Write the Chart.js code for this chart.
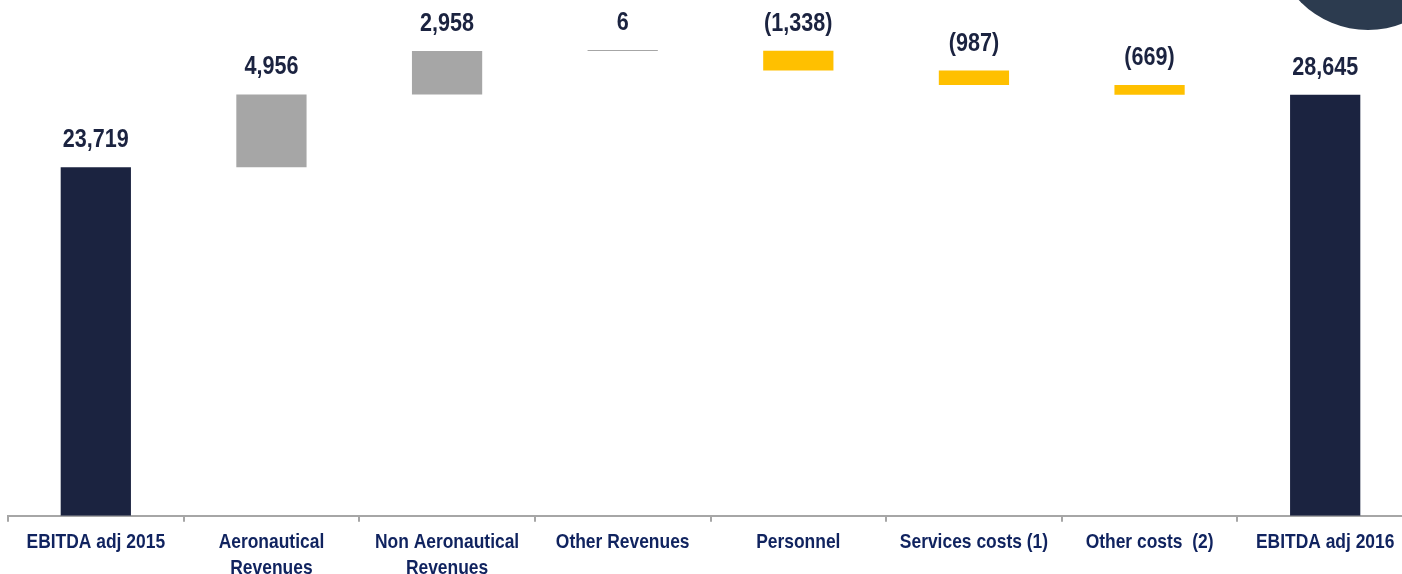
<!DOCTYPE html>
<html>
<head>
<meta charset="utf-8">
<script src="https://cdn.jsdelivr.net/npm/chart.js@4.4.1/dist/chart.umd.min.js"></script>
<style>
    html, body { margin: 0; padding: 0; background: #fff; overflow: hidden; }
    #wrap { position: relative; width: 1402px; height: 574px; overflow: hidden; }
    #chartBox { position: absolute; left: 0; top: 0; width: 1420px; height: 574px; }
    #deco { position: absolute; left: 1273px; top: -160px; width: 190px; height: 190px; border-radius: 50%; background: #2c3b4f; }
</style>
</head>
<body>
<div id="wrap">
    <div id="chartBox"><canvas id="chartWaterfall"></canvas></div>
    <div id="deco"></div>
</div>
<script>
const categories = [
    'EBITDA adj 2015',
    ['Aeronautical', 'Revenues'],
    ['Non Aeronautical', 'Revenues'],
    'Other Revenues',
    'Personnel',
    'Services costs (1)',
    'Other costs  (2)',
    'EBITDA adj 2016'
];
const values = [23719, 4956, 2958, 6, -1338, -987, -669, 28645];
const isTotal = [true, false, false, false, false, false, false, true];

const FONT = '"Liberation Sans", Arial, sans-serif';
const NARROW = 0.83; // no narrow face installed, squeeze the bold sans instead
const formatter = new Intl.NumberFormat('en-US', {maximumFractionDigits: 0});

function formatValue(value) {
    const text = formatter.format(Math.abs(value));
    return value < 0 ? `(${text})` : text;
}

// floating bars from the running total
let running = 0;
const ranges = values.map((v, i) => {
    if (isTotal[i]) {
        running = v;
        return [0, v];
    }
    const start = running;
    running += v;
    return [start, running];
});

const barColors = values.map((v, i) => isTotal[i] ? '#1b2340' : (v >= 0 ? '#a6a6a6' : '#ffc000'));

function narrowText(ctx, text, x, y) {
    ctx.save();
    ctx.translate(x, y);
    ctx.scale(NARROW, 1);
    ctx.fillText(text, 0, 0);
    ctx.restore();
}

const valueLabels = {
    id: 'valueLabels',
    afterDatasetsDraw(chart) {
        const ctx = chart.ctx;
        const meta = chart.getDatasetMeta(0);
        ctx.save();
        ctx.font = `bold 26px ${FONT}`;
        ctx.fillStyle = '#1b2340';
        ctx.textAlign = 'center';
        ctx.textBaseline = 'alphabetic';
        meta.data.forEach((bar, i) => {
            const top = Math.min(bar.y, bar.base);
            narrowText(ctx, formatValue(values[i]), bar.x, top - 20);
        });
        ctx.restore();
    }
};

const categoryLabels = {
    id: 'categoryLabels',
    afterDraw(chart) {
        const ctx = chart.ctx;
        const xScale = chart.scales.x;
        const bottom = chart.chartArea.bottom;
        ctx.save();
        ctx.font = `bold 21px ${FONT}`;
        ctx.fillStyle = '#10235f';
        ctx.textAlign = 'center';
        ctx.textBaseline = 'alphabetic';
        categories.forEach((label, i) => {
            const lines = Array.isArray(label) ? label : [label];
            const x = xScale.getPixelForTick(i);
            lines.forEach((line, j) => {
                narrowText(ctx, line, x, bottom + 32 + j * 26);
            });
        });
        ctx.restore();
    }
};

new Chart(document.getElementById('chartWaterfall').getContext('2d'), {
    type: 'bar',
    data: {
        labels: categories,
        datasets: [{
            data: ranges,
            backgroundColor: barColors,
            borderWidth: 0,
            barPercentage: 0.4,
            categoryPercentage: 1,
            minBarLength: 1
        }]
    },
    options: {
        responsive: true,
        maintainAspectRatio: false,
        animation: false,
        layout: {padding: {left: 8, right: 7, top: 0, bottom: 0}},
        plugins: {
            legend: {display: false},
            tooltip: {enabled: false}
        },
        scales: {
            x: {
                grid: {
                    display: true,
                    drawOnChartArea: false,
                    drawTicks: true,
                    tickLength: 6,
                    color: '#a6a6a6',
                    lineWidth: 2
                },
                border: {display: true, color: '#a6a6a6', width: 2},
                ticks: {
                    // axis keeps its room, text is drawn squeezed by categoryLabels
                    color: 'rgba(0,0,0,0)',
                    maxRotation: 0,
                    autoSkip: false,
                    padding: 2,
                    font: {family: FONT, size: 21, weight: 'bold', lineHeight: 1.15}
                }
            },
            y: {
                display: false,
                min: 0,
                max: 35100
            }
        }
    },
    plugins: [valueLabels, categoryLabels]
});
</script>
</body>
</html>
